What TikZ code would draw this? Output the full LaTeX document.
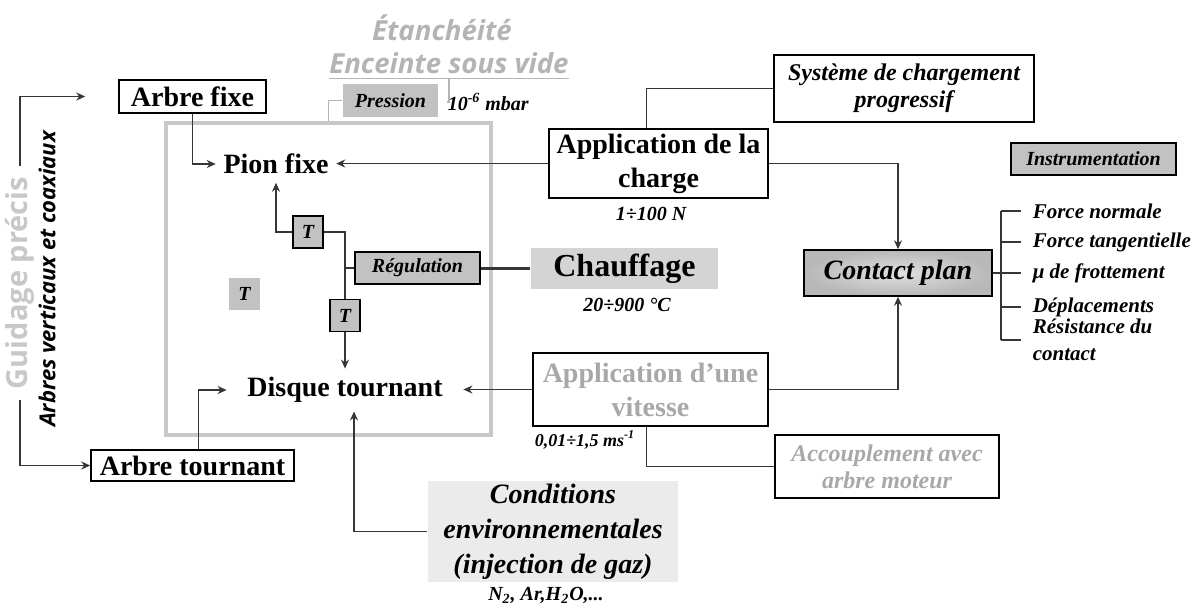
\documentclass[tikz,border=0pt]{standalone}
\usepackage{fontspec}
\setmainfont{Liberation Serif}
\setsansfont{Open Sans}
\usetikzlibrary{arrows.meta,calc}

\definecolor{linkgrey}{HTML}{363636}
\definecolor{palegrey}{HTML}{B4B4B4}
\definecolor{chambergrey}{HTML}{C8C8C8}
\definecolor{boxgrey}{HTML}{C2C2C2}
\definecolor{chaufgrey}{HTML}{D4D4D4}
\definecolor{condgrey}{HTML}{EBEBEB}
\definecolor{textgrey}{HTML}{A8A8A8}

\begin{document}
\begin{tikzpicture}[x=0.5pt,y=-0.5pt,>={Stealth[length=4.5pt,width=4pt]},line width=0.75pt,
  main box/.style={draw,inner sep=0pt,align=center,font=\bfseries\fontsize{14}{17}\selectfont},
  italic box/.style={draw,inner sep=0pt,align=center,font=\bfseries\itshape\fontsize{12}{13.5}\selectfont},
  grey box/.style={fill=boxgrey,inner sep=0pt,align=center,font=\bfseries\itshape\fontsize{10}{12}\selectfont},
  t box/.style={grey box,draw,minimum width=15pt,minimum height=16pt},
  big text/.style={inner ysep=4pt,font=\bfseries\fontsize{14}{17}\selectfont},
  small text/.style={inner sep=0pt,font=\bfseries\itshape\fontsize{10}{12}\selectfont},
  instr text/.style={anchor=west,inner xsep=5.5pt,inner ysep=0pt,align=left,font=\bfseries\itshape\fontsize{10.5}{13.5}\selectfont},
  title text/.style={text=palegrey,font=\sffamily\bfseries\itshape\fontsize{13.8}{16}\selectfont},
  link/.style={draw=linkgrey},
  pale link/.style={draw=palegrey}]

\useasboundingbox (0,0) rectangle (1195,607);

% enceinte sous vide
\node[title text,inner sep=0pt] (etan) at (442,28) {Étanchéité};
\node[title text,inner xsep=0pt,inner ysep=2pt] (ench) at (449,63) {Enceinte sous vide};
\draw[pale link] (ench.south west) -- (ench.south east);
\node[small text,anchor=west] (mbar) at (447,102) {10\textsuperscript{-6} mbar};
\node[grey box,minimum width=47.5pt,minimum height=16.5pt] (press) at (390.5,100.5) {Pression};
\node[draw=chambergrey,line width=2pt,minimum width=162.5pt,minimum height=156pt] (cham) at (328.5,279) {};
\draw[pale link] (ench.south) |- (mbar.west);
\draw[pale link] (press.west) -| (cham.north);

% arbres
\node[main box,minimum width=73.5pt,minimum height=16.5pt] (afixe) at (192.5,96.5) {Arbre fixe};
\node[main box,minimum width=101.5pt,minimum height=15.5pt] (atour) at (192.5,465.5) {Arbre tournant};
\node[big text,inner xsep=3.5pt] (pion) at (276,164) {Pion fixe};
\node[big text,inner xsep=10pt] (disque) at (345,390) {Disque tournant};
\node[rotate=90,inner xsep=5pt,text=chambergrey,font=\sffamily\bfseries\fontsize{14.5}{17}\selectfont] (guid) at (20,283) {Guidage précis};
\node[rotate=90,inner sep=0pt,font=\sffamily\bfseries\itshape\fontsize{11}{12}\selectfont] (arbres) at (47,279) {Arbres verticaux et coaxiaux};

% temperature
\node[t box] (t1) at (308,232) {T};
\node[t box] (t2) at (345,315.5) {T};
\node[grey box,minimum width=15.5pt,minimum height=16pt] (tin) at (244.5,294) {T};
\node[grey box,draw,minimum width=62.5pt,minimum height=16pt] (reg) at (417.5,268) {Régulation};
\node[fill=chaufgrey,inner sep=0pt,minimum width=93.5pt,minimum height=20.5pt,font=\bfseries\fontsize{16}{19}\selectfont] (chauf) at (624.5,268.5) {Chauffage};
\node[small text] (temp) at (627,305) {20÷900 °C};

% charge et vitesse
\node[main box,minimum width=109.5pt,minimum height=34.5pt] (charge) at (658.5,163.5) {Application de la\\charge};
\node[small text] (force) at (651,214) {1÷100 N};
\node[italic box,minimum width=130pt,minimum height=33.5pt] (sys) at (904,88.5) {Système de chargement\\progressif};
\node[main box,text=textgrey,minimum width=117.5pt,minimum height=36.5pt] (vit) at (650.5,389.5) {Application d’une\\vitesse};
\node[small text,font=\bfseries\itshape\fontsize{9}{11}\selectfont] (speed) at (585,440) {0,01÷1,5 ms\textsuperscript{-1}};
\node[italic box,text=textgrey,minimum width=112pt,minimum height=31.5pt] (acc) at (887,466.5) {Accouplement avec\\arbre moteur};
\node[fill=condgrey,inner sep=0pt,align=center,minimum width=125pt,minimum height=50.5pt,font=\bfseries\itshape\fontsize{14}{17.5}\selectfont] (cond) at (553,531.5) {Conditions\\environnementales\\(injection de gaz)};
\node[small text] (gas) at (546,595) {N\textsubscript{2}, Ar,H\textsubscript{2}O,...};

% contact et instrumentation
\node[draw,inner color=white!88!black,outer color=white!72!black,minimum width=94pt,minimum height=23pt,font=\bfseries\itshape\fontsize{14}{17}\selectfont] (contact) at (898,273) {Contact plan};
\node[grey box,draw,minimum width=82.5pt,minimum height=16pt] (instr) at (1093.5,159) {Instrumentation};
\node[instr text] (fnorm) at (1021,211) {Force normale};
\node[instr text] (ftang) at (1021,242) {Force tangentielle};
\node[instr text] (mu) at (1021,273) {μ de frottement};
\node[instr text] (depl) at (1021,307) {Déplacements};
\node[instr text] (resist) at (1021,340) {Résistance du\\contact};
\coordinate (br) at (1001,273);

\draw[link,->] (afixe.south) |- (pion.west);
\draw[link,->] (charge.west) -- (charge.west -| pion.east);
\draw[link,->] (t1.west) -| (pion.south);
\draw[link] (t1.east) -| (t2.north);
\draw[link] (reg.west) -- (reg.west -| t2.north);
\draw[link,line width=1.5pt] (reg.east) -- (reg.east -| chauf.west);
\draw[link,->] (t2.south) -- (disque.north);
\draw[link,->] (vit.west) -- (vit.west -| disque.east);
\draw[link,->] ([xshift=3pt]atour.north) |- (disque.west);
\draw[link,->] (cond.west) -| ([xshift=4.5pt]disque.south);
\draw[link] ([xshift=-6pt]charge.north) |- (sys.west);
\draw[link,->] (charge.east) -| (contact.north);
\draw[link,->] (vit.east) -| (contact.south);
\draw[link] ([xshift=-2pt]vit.south) |- (acc.west);
\draw[link,->] (guid.east) |- ([xshift=-16.5pt]afixe.west);
\draw[link,->] (guid.west) |- (atour.west);
\draw[link] (contact.east) -- (br);
\draw[link] (fnorm.west -| br) -- (resist.west -| br);
\foreach \n in {fnorm,ftang,mu,depl,resist}
  \draw[link] (\n.west) -- (\n.west -| br);
\end{tikzpicture}
\end{document}
